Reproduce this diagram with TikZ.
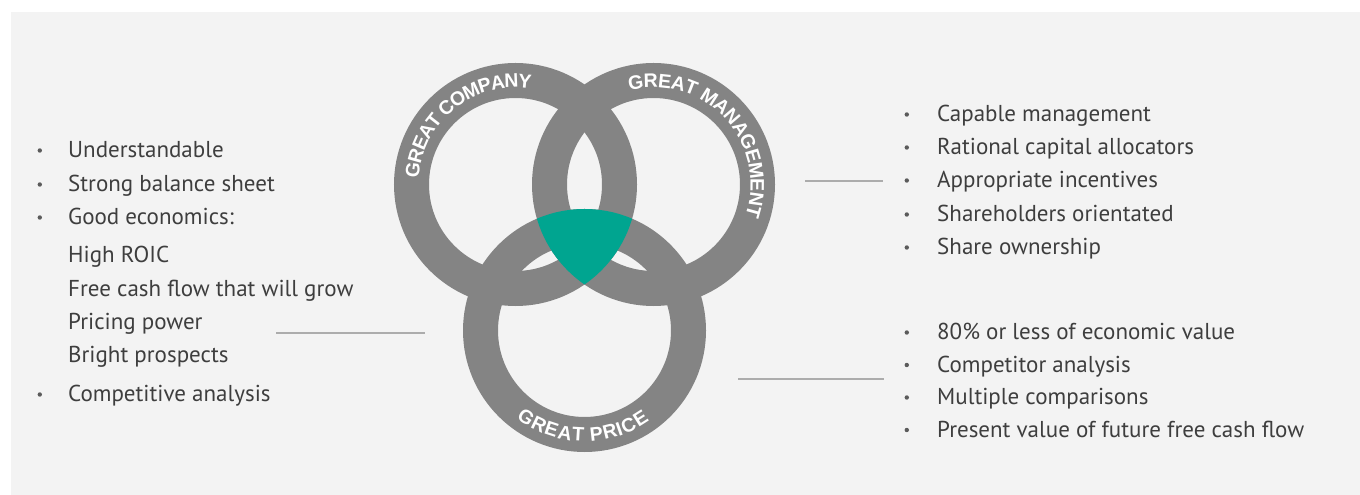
\documentclass[tikz,border=0pt]{standalone}
\usepackage{fontspec}
\setmainfont{PT Sans}
\newfontfamily\ringfont{Liberation Sans}[UprightFont=* Bold]
\usepackage{tikz}
\usetikzlibrary{positioning,decorations.text}
\definecolor{vgback}{RGB}{243,243,243}
\definecolor{vgring}{RGB}{132,132,132}
\definecolor{vgteal}{RGB}{0,165,144}
\definecolor{vgtext}{RGB}{62,62,62}
\definecolor{vgline}{RGB}{172,172,172}
\newcommand{\ringlab}{\ringfont\fontsize{19.5}{20}\selectfont}
\tikzstyle{ring} = [draw=vgring, line width=35pt]
\tikzstyle{item} = [anchor=base west, inner sep=0pt, text=vgtext, font=\fontsize{23}{27}\selectfont]
\tikzstyle{dot} = [circle, fill=vgtext!85, inner sep=0pt, minimum size=4.4pt]
\tikzstyle{guide} = [draw=vgline, line width=2pt]
\tikzstyle{ringlabel} = [decorate, decoration={text along path, text align=center, text color=white, #1}]

\begin{document}
\begin{tikzpicture}[x=1pt, y=1pt]
\useasboundingbox (0,0) rectangle (1360,495);
\fill[vgback] (11,0) rectangle (1360,483);

% Circle centres
\coordinate (company) at (515.5,310.5);
\coordinate (mgmt) at (653.5,310.5);
\coordinate (price) at (584.5,164.5);

% Three rings
\draw[ring] (company) circle (104);
\draw[ring] (mgmt) circle (104);
\draw[ring] (price) circle (104);

% Common part
\begin{scope}
\clip (company) circle (121.5);
\clip (mgmt) circle (121.5);
\fill[vgteal] (price) circle (121.5);
\end{scope}

% Ring labels
\begin{scope}
\ringlab
\path[ringlabel={text={GREAT COMPANY}, raise=-7.7pt}] (company) ++(218.7:104.7) arc[start angle=218.7, end angle=38.7, radius=104.7];
\path[ringlabel={text={GREAT MANAGEMENT}, raise=-3.2pt}] (mgmt) ++(132.6:100.2) arc[start angle=132.6, end angle=-47.4, radius=100.2];
\path[ringlabel={text={GREAT PRICE}, raise=-8.2pt}] (price) ++(178.9:102.8) arc[start angle=178.9, end angle=358.9, radius=102.8];
\end{scope}

% Company list
\foreach \yy/\txt [count=\i] in {158/Understandable, 192/Strong balance sheet, 225/Good economics:, 402/Competitive analysis} {
  \node[item] (co-\i) at (68,{495-\yy}) {\txt};
  \node[dot, left=25.8pt of co-\i.base west, yshift=7.5pt] (co-dot-\i) {};
}
\foreach \yy/\txt [count=\i] in {263/High ROIC, 297/Free cash flow that will grow, 330/Pricing power, 363/Bright prospects} {
  \node[item] (cs-\i) at (68,{495-\yy}) {\txt};
}

% Management list
\foreach \yy/\txt [count=\i] in {122/Capable management, 155/Rational capital allocators, 188/Appropriate incentives, 222/Shareholders orientated, 255/Share ownership} {
  \node[item] (ma-\i) at (937,{495-\yy}) {\txt};
  \node[dot, left=27.8pt of ma-\i.base west, yshift=7.5pt] (ma-dot-\i) {};
}

% Price list
\foreach \yy/\txt [count=\i] in {340/80\% or less of economic value, 372.5/Competitor analysis, 405/Multiple comparisons, 437.5/Present value of future free cash flow} {
  \node[item] (pr-\i) at (937,{495-\yy}) {\txt};
  \node[dot, left=27.8pt of pr-\i.base west, yshift=7.5pt] (pr-dot-\i) {};
}

% Guide lines
\coordinate (gc-a) at (276,162);
\coordinate (gc-b) at (425,162);
\coordinate (gm-a) at (805,314);
\coordinate (gm-b) at (883,314);
\coordinate (gp-a) at (738,116);
\coordinate (gp-b) at (884,116);
\draw[guide] (gc-a) -- (gc-b);
\draw[guide] (gm-a) -- (gm-b);
\draw[guide] (gp-a) -- (gp-b);
\end{tikzpicture}
\end{document}
